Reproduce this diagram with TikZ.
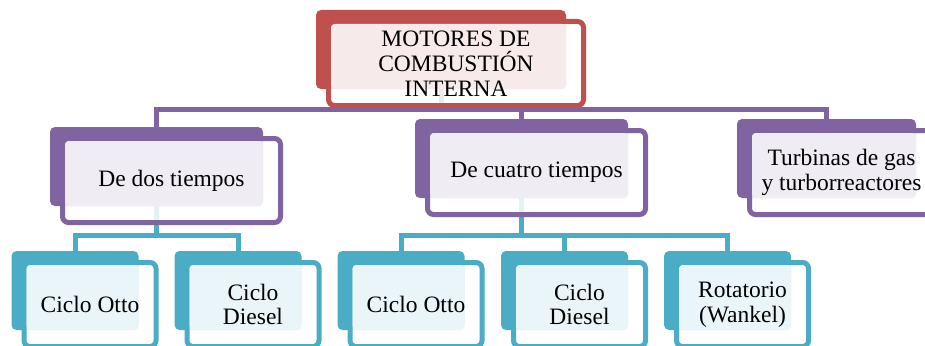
\documentclass[tikz,border=0pt]{standalone}
\usepackage{fontspec}
\setmainfont{Liberation Serif}
\usepackage{tikz}
\usetikzlibrary{backgrounds}

\definecolor{mred}{HTML}{C0504D}
\definecolor{mpurple}{HTML}{8064A2}
\definecolor{mteal}{HTML}{4BACC6}

\tikzset{
  backbox/.style={fill=#1, rounded corners=5pt, inner sep=0pt, outer sep=0pt, minimum height=79},
  frontbox/.style={draw=#1, line width=5pt, fill=white, fill opacity=0.85, rounded corners=6pt, inner sep=0pt, outer sep=0pt, minimum height=84},
  tintbox/.style={fill=#1!12, rounded corners=4pt},
  conn/.style={draw=#1, line width=5pt},
  lbl/.style={align=center, inner sep=0pt, font=\fontsize{23.5}{24.8}\selectfont}
}

% back box, framed front box, tinted overlap and text
\newcommand{\itembox}[6]{
  \node[backbox=#2, minimum width=#5] (#1) at (#3,#4) {};
  \node[frontbox=#2, minimum width=#5+5] (#1-f) at ([shift={(15,14)}]#1.center) {};
  \fill[tintbox=#2] ([shift={(2.5,2.5)}]#1-f.north west) rectangle (#1.south east);
  \node[lbl] (#1-t) at (#1-f) {#6};
}

\begin{document}
\begin{tikzpicture}[x=1pt,y=-1pt]
\useasboundingbox (0,0) rectangle (925,345);

\itembox{mci}{mred}{441}{49.5}{250}{MOTORES DE\\COMBUSTIÓN\\INTERNA}

\itembox{dos}{mpurple}{156.5}{166.5}{213}{De dos tiempos}
\itembox{cuatro}{mpurple}{521.5}{158.5}{213}{De cuatro tiempos}
\itembox{turb}{mpurple}{826.5}{158.5}{179}{Turbinas de gas\\y turborreactores}

\itembox{otto1}{mteal}{75}{290.5}{127}{Ciclo Otto}
\itembox{diesel1}{mteal}{238}{290.5}{127}{Ciclo\\Diesel}
\itembox{otto2}{mteal}{401}{290.5}{127}{Ciclo Otto}
\itembox{diesel2}{mteal}{564.5}{290.5}{127}{Ciclo\\Diesel}
\itembox{rot}{mteal}{727.5}{290.5}{127}{Rotatorio\\(Wankel)}

\coordinate (topbus) at (441,109);
\coordinate (lbus) at (156.5,235.5);
\coordinate (rbus) at (521.5,235.5);

\begin{scope}[on background layer]
\draw[conn=mpurple] (mci.south) -- (topbus);
\draw[conn=mpurple] (dos.north) |- (topbus) -| (turb.north);
\draw[conn=mpurple] (cuatro.north) -- (cuatro.north |- topbus);

\draw[conn=mteal] (dos.south) -- (lbus);
\draw[conn=mteal] (otto1.north) |- (lbus) -| (diesel1.north);
\draw[conn=mteal] (cuatro.south) -- (rbus);
\draw[conn=mteal] (otto2.north) |- (rbus) -| (rot.north);
\draw[conn=mteal] (diesel2.north) -- (diesel2.north |- rbus);
\end{scope}
\end{tikzpicture}
\end{document}
